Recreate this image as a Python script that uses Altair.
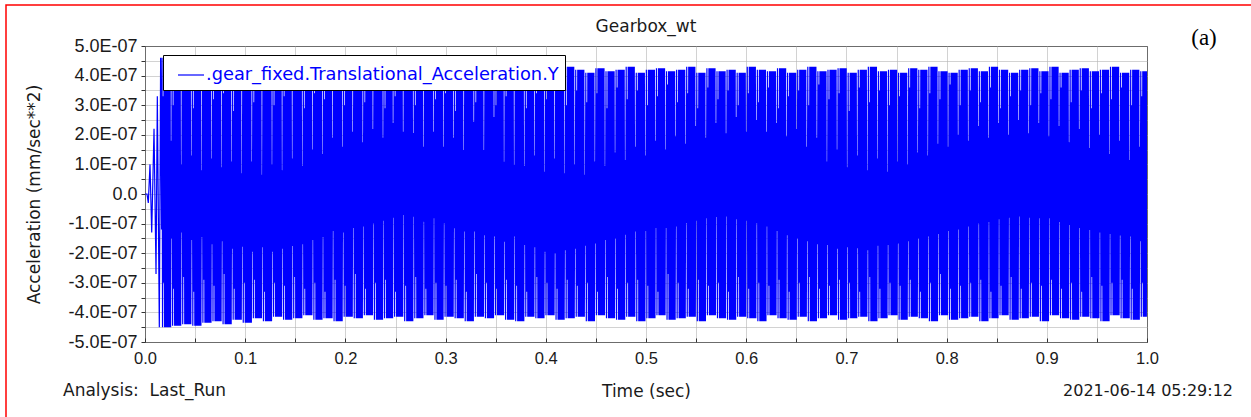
import altair as alt
import pandas as pd

# ---- values (acceleration in units of 1e-7 mm/sec**2) ----
# start-up transient before the steady oscillation
startup_t = [0.0, 0.002, 0.0033, 0.005, 0.0067, 0.009, 0.011, 0.0123, 0.0143, 0.0156]
startup_v = [0.0, 0.0, -0.3, 1.0, -1.3, 2.2, -2.7, 3.3, -4.5, 4.6]

# the steady part: one amplitude dip every ~0.01 s, first one at 0.016 s
dip_start = 0.016
dip_period = 0.01007

upper_dip = [2.4, 1.8, 1.0, 1.3, 0.8, 1.2, 0.9, 1.1, 0.7, 1.1,
             0.65, 1.0, 0.8, 1.2, 0.95, 1.5, 1.35, 1.9, 1.6, 2.1,
             1.75, 2.2, 1.9, 2.4, 2.1, 2.06, 1.6, 2.1, 1.6, 1.9,
             1.49, 2.44, 1.49, 2.6, 1.09, 0.98, 0.95, 1.3, 0.75, 1.2,
             0.7, 1.0, 0.65, 1.1, 0.95, 1.4, 1.15, 1.6, 1.3, 1.8,
             1.5, 1.95, 1.7, 2.3, 1.9, 2.4, 2.05, 2.6, 2.1, 2.5,
             2.1, 2.4, 1.95, 2.2, 1.6, 1.9, 1.1, 1.5, 0.9, 1.3,
             0.8, 1.2, 0.75, 1.1, 1.0, 1.4, 1.3, 1.7, 1.6, 2.0,
             1.8, 2.3, 1.9, 2.4, 2.0, 2.5, 2.05, 2.4, 1.95, 2.3,
             1.75, 2.2, 1.55, 2.0, 1.35, 1.8, 1.15, 1.6]

lower_dip = [-1.2, -1.5, -1.3, -1.55, -1.45, -1.7, -1.6, -1.85, -1.78, -1.95,
             -1.8, -1.95, -1.85, -1.76, -1.7, -1.55, -1.45, -1.25, -1.3, -1.15,
             -1.1, -1.0, -0.9, -0.8, -0.71, -0.77, -0.94, -0.82, -0.99, -1.16,
             -1.27, -1.27, -1.39, -1.44, -1.61, -1.44, -1.72, -1.8, -1.95, -2.0,
             -1.9, -1.85, -1.75, -1.67, -1.55, -1.5, -1.38, -1.27, -1.25, -1.15,
             -1.15, -1.1, -0.98, -0.9, -0.82, -0.78, -0.76, -0.85, -0.9, -0.99,
             -1.1, -1.25, -1.39, -1.5, -1.6, -1.7, -1.72, -1.85, -1.8, -1.83,
             -1.9, -1.75, -1.72, -1.67, -1.6, -1.5, -1.44, -1.35, -1.25, -1.2,
             -1.1, -1.0, -0.95, -0.85, -0.8, -0.76, -0.8, -0.82, -0.82, -0.95,
             -1.05, -1.15, -1.22, -1.3, -1.35, -1.4, -1.44, -1.6]

upper_notch = [3.3, 3.0, 3.5, 2.9, 3.6, 3.2, 3.4, 2.8, 3.7, 3.1,
               3.5, 3.0, 3.3, 3.6, 2.9, 3.4, 3.2, 3.7, 3.0, 3.5,
               3.1, 3.6, 2.9, 3.3, 3.5, 3.0, 3.7, 3.2, 3.4, 2.8,
               3.6, 3.1, 3.5, 3.0, 3.3, 3.7, 2.9, 3.4, 3.2, 3.6,
               3.0, 3.5, 3.1, 3.4, 2.9, 3.6, 3.2, 3.5, 3.0, 3.3,
               3.7, 3.1, 3.4, 2.9, 3.6, 3.2, 3.5, 3.0, 3.4, 3.1,
               3.6, 2.9, 3.3, 3.5, 3.0, 3.7, 3.2, 3.4, 2.8, 3.6,
               3.1, 3.5, 3.0, 3.3, 3.6, 2.9, 3.4, 3.2, 3.7, 3.0,
               3.5, 3.1, 3.6, 2.9, 3.3, 3.5, 3.0, 3.4, 3.2, 3.6,
               3.1, 3.5, 2.9, 3.4, 3.2, 3.6, 3.0, 3.3]

lower_notch = [-3.0, -3.2, -2.8, -3.3, -2.9, -3.1, -2.7, -3.2, -3.0, -2.9,
               -3.3, -3.0, -3.1, -2.8, -3.2, -3.0, -3.3, -2.9, -3.1, -2.7,
               -3.2, -3.0, -2.9, -3.3, -3.1, -2.8, -3.2, -3.0, -3.1, -2.9,
               -3.3, -2.7, -3.0, -3.2, -2.9, -3.1, -3.3, -2.8, -3.0, -3.2,
               -2.9, -3.1, -3.0, -3.3, -2.8, -3.2, -3.0, -2.9, -3.1, -3.3,
               -2.7, -3.0, -3.2, -2.9, -3.1, -3.0, -3.3, -2.8, -3.2, -3.0,
               -3.1, -2.9, -3.3, -3.0, -2.8, -3.2, -3.1, -2.9, -3.0, -3.3,
               -2.8, -3.2, -3.0, -3.1, -2.9, -3.3, -3.0, -2.7, -3.2, -3.1,
               -3.0, -2.9, -3.3, -3.1, -2.8, -3.2, -3.0, -3.1, -2.9, -3.2,
               -3.0, -3.3, -2.8, -3.1, -3.0, -2.9, -3.2, -3.0]

peak_top = [4.6, 4.45, 4.35, 4.3, 4.25, 4.2, 4.3, 4.15, 4.25, 4.2,
            4.1, 4.25, 4.2, 4.15, 4.3, 4.1, 4.2, 4.25, 4.15, 4.2,
            4.3, 4.1, 4.2, 4.15, 4.25, 4.2, 4.1, 4.3, 4.2, 4.15,
            4.25, 4.1, 4.2, 4.3, 4.15, 4.2, 4.25, 4.1, 4.2, 4.15,
            4.3, 4.2, 4.1, 4.25, 4.15, 4.2, 4.3, 4.1, 4.2, 4.25,
            4.15, 4.2, 4.3, 4.1, 4.25, 4.15, 4.2, 4.1, 4.3, 4.2,
            4.15, 4.25, 4.1, 4.2, 4.3, 4.15, 4.2, 4.25, 4.1, 4.2,
            4.3, 4.15, 4.2, 4.1, 4.25, 4.2, 4.3, 4.15, 4.1, 4.2,
            4.25, 4.15, 4.3, 4.2, 4.1, 4.2, 4.25, 4.15, 4.3, 4.1,
            4.2, 4.25, 4.15, 4.2, 4.3, 4.1, 4.2, 4.15]

peak_bottom = [-4.5, -4.45, -4.4, -4.45, -4.35, -4.3, -4.4, -4.25, -4.35, -4.2,
               -4.3, -4.15, -4.25, -4.2, -4.1, -4.25, -4.2, -4.3, -4.15, -4.2,
               -4.1, -4.25, -4.2, -4.15, -4.3, -4.2, -4.1, -4.25, -4.15, -4.2,
               -4.3, -4.15, -4.2, -4.1, -4.25, -4.3, -4.15, -4.2, -4.1, -4.25,
               -4.2, -4.15, -4.3, -4.1, -4.2, -4.25, -4.15, -4.3, -4.2, -4.1,
               -4.25, -4.2, -4.15, -4.3, -4.1, -4.2, -4.25, -4.15, -4.2, -4.3,
               -4.1, -4.2, -4.25, -4.15, -4.3, -4.2, -4.1, -4.25, -4.2, -4.15,
               -4.3, -4.2, -4.1, -4.25, -4.15, -4.2, -4.3, -4.1, -4.25, -4.2,
               -4.15, -4.3, -4.2, -4.1, -4.25, -4.2, -4.15, -4.3, -4.1, -4.2,
               -4.25, -4.15, -4.2, -4.3, -4.1, -4.2, -4.25, -4.15]

series_name = ".gear_fixed.Translational_Acceleration.Y"

# ---- assemble the sampled signal (two samples per column: high, low) ----
times = list(startup_t)
values = list(startup_v)
sub = dip_period / 20.0
for k, (ud, ld, un, ln, tp, bt) in enumerate(
        zip(upper_dip, lower_dip, upper_notch, lower_notch, peak_top, peak_bottom)):
    t0 = dip_start + k * dip_period
    seq = [ud, ld, tp, bt, un, ln] + [tp, bt] * 7
    for i, v in enumerate(seq):
        t = t0 + i * sub
        if t <= 1.0:
            times.append(t)
            values.append(v)

df = pd.DataFrame({
    "Time": times,
    "Acceleration": [v * 1e-7 for v in values],
    "series": series_name,
})

TFONT = "'DejaVu Sans', 'Liberation Sans', sans-serif"
NFONT = "Liberation Sans"
TXT = "#1a1a1a"

x_ticks = [round(i * 0.05, 2) for i in range(21)]
y_ticks = [i * 0.5e-7 for i in range(-10, 11)]

line = alt.Chart(df).mark_line(strokeWidth=1.2, clip=True).encode(
    x=alt.X("Time:Q",
            scale=alt.Scale(domain=[0, 1], nice=False, zero=False),
            axis=alt.Axis(values=x_ticks,
                          labelExpr="round(datum.value*20) % 2 != 0 ? '' : format(datum.value, '.1f')",
                          title="Time (sec)", titleX=501, titleY=53,
                          titleBaseline="middle", titleAlign="center",
                          offset=-4, tickSize=4, domain=False, labelFontSize=16.5,
                          labelPadding=8, labelFlush=False, labelOverlap=False)),
    y=alt.Y("Acceleration:Q",
            scale=alt.Scale(domain=[-5e-7, 5e-7], nice=False, zero=False),
            axis=alt.Axis(values=y_ticks,
                          labelExpr="round(datum.value*2e7) % 2 != 0 ? '' : (datum.value == 0 ? '0.0' : (datum.value < 0 ? '-' : '') + format(abs(datum.value)*1e7, '.1f') + 'E-07')",
                          title="Acceleration (mm/sec**2)", titleX=-111, titleY=148,
                          titleAngle=270, titleBaseline="middle", titleAlign="center",
                          labelFontSize=18,
                          tickSize=4, labelPadding=4, labelOverlap=False, domain=False)),
    color=alt.Color("series:N",
                    scale=alt.Scale(range=["#0000ff"]),
                    legend=alt.Legend(title=None, orient="none", legendX=18, legendY=9,
                                      fillColor="white", strokeColor="black",
                                      padding=6, symbolType="stroke", symbolSize=680,
                                      symbolStrokeWidth=1.2, symbolOffset=8,
                                      labelFontSize=17.8, labelFont=TFONT,
                                      labelColor="#0000ff", labelOffset=1,
                                      labelLimit=600)),
)

one = alt.Data(values=[{}])


def note(txt, x, y, align, size, font=TFONT, color=TXT):
    return alt.Chart(one).mark_text(text=txt, align=align, baseline="middle",
                                    font=font, fontSize=size, color=color).encode(
        x=alt.value(x), y=alt.value(y))


title = note("Gearbox_wt", 501, -19, "center", 17)
analysis = note("Analysis:\u00a0 Last_Run", -82, 345, "left", 17)
stamp = note("2021-06-14 05:29:12", 1088, 345, "right", 16)
panel = note("(a)", 1059, -8, "center", 23, font="Liberation Serif", color="black")
frame = alt.Chart(one).mark_rect(fillOpacity=0, stroke="red", strokeWidth=1.5).encode(
    x=alt.value(-139), x2=alt.value(1115), y=alt.value(-41), y2=alt.value(380))

chart = alt.layer(line, title, analysis, stamp, panel, frame).properties(
    width=1002, height=296,
    background="white",
    autosize=alt.AutoSizeParams(type="none"),
    padding={"left": 145, "top": 46, "right": 104, "bottom": 75},
).configure_view(
    stroke="black", strokeWidth=1
).configure_axis(
    labelFont=NFONT, labelFontSize=16, labelColor=TXT,
    titleFont=TFONT, titleFontSize=17, titleColor=TXT, titleFontWeight="normal",
    gridColor="#b4b4b4", gridOpacity=0.6, gridWidth=1,
    tickColor="#333333", tickWidth=1, zindex=1,
)

chart.save("out.html", embed_options={"renderer": "svg", "actions": False})
